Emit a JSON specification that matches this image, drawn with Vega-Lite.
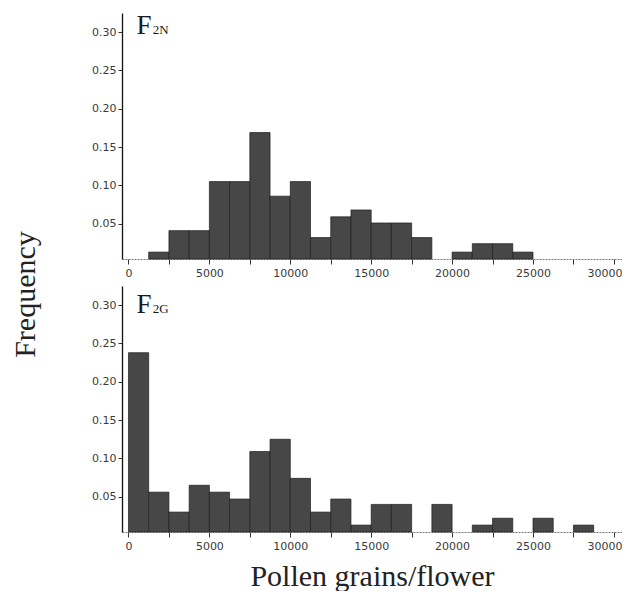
{
  "$schema": "https://vega.github.io/schema/vega-lite/v6.json",
  "background": "white",
  "padding": {"left": 10, "top": 12, "right": 0, "bottom": 0},
  "bounds": "flush",
  "spacing": 27,
  "config": {
    "view": {"stroke": null},
    "axis": {
      "labelFont": "DejaVu Sans",
      "labelFontSize": 11,
      "labelColor": "#3a3a3a",
      "tickColor": "#333",
      "grid": false,
      "titleFont": "Liberation Serif",
      "titleFontWeight": "normal",
      "titleFontSize": 30,
      "titleColor": "#222"
    }
  },
  "vconcat": [
    {
      "width": 500,
      "height": 246,
      "layer": [
        {
          "data": {"values": [
            {"start": 1250, "end": 2500, "freq": 0.013},
            {"start": 2500, "end": 3750, "freq": 0.041},
            {"start": 3750, "end": 5000, "freq": 0.041},
            {"start": 5000, "end": 6250, "freq": 0.105},
            {"start": 6250, "end": 7500, "freq": 0.105},
            {"start": 7500, "end": 8750, "freq": 0.169},
            {"start": 8750, "end": 10000, "freq": 0.086},
            {"start": 10000, "end": 11250, "freq": 0.105},
            {"start": 11250, "end": 12500, "freq": 0.032},
            {"start": 12500, "end": 13750, "freq": 0.059},
            {"start": 13750, "end": 15000, "freq": 0.068},
            {"start": 15000, "end": 16250, "freq": 0.051},
            {"start": 16250, "end": 17500, "freq": 0.051},
            {"start": 17500, "end": 18750, "freq": 0.032},
            {"start": 20000, "end": 21250, "freq": 0.013},
            {"start": 21250, "end": 22500, "freq": 0.024},
            {"start": 22500, "end": 23750, "freq": 0.024},
            {"start": 23750, "end": 25000, "freq": 0.013}
          ]},
          "mark": {"type": "bar", "fill": "#474747", "stroke": "#1e1e1e", "strokeWidth": 0.7},
          "encoding": {
            "x": {
              "field": "start", "type": "quantitative",
              "scale": {"domain": [-400, 30500], "nice": false, "zero": false},
              "axis": {
                "title": null,
                "values": [0, 2500, 5000, 7500, 10000, 12500, 15000, 17500, 20000, 22500, 25000, 27500, 30000],
                "format": "d",
                "labelExpr": "datum.value % 5000 === 0 ? datum.label : ''",
                "tickSize": 5,
                "labelPadding": 3,
                "domainColor": "#777",
                "domainDash": [2, 1],
                "labelFlush": false,
                "labelAlign": {"condition": {"test": "datum.value === 30000", "value": "right"}, "value": "center"},
                "labelOffset": {"condition": {"test": "datum.value === 30000", "value": 8}, "value": 0}
              }
            },
            "x2": {"field": "end"},
            "y": {
              "field": "freq", "type": "quantitative",
              "scale": {"domain": [0.004, 0.325], "nice": false, "zero": false, "clamp": true},
              "axis": {
                "values": [0.05, 0.1, 0.15, 0.2, 0.25, 0.3],
                "format": ".2f",
                "tickSize": 4,
                "domainColor": "#111",
                "domainWidth": 1.3,
                "title": "Frequency",
                "titleAngle": -90,
                "titleX": -97,
                "titleY": 281,
                "titleAlign": "center",
                "titleBaseline": "middle"
              }
            },
            "y2": {"datum": 0}
          }
        },
        {
          "data": {"values": [{"label": "F2N"}]},
          "mark": {"type": "text", "text": "F", "font": "Liberation Serif", "fontSize": 27, "align": "left", "baseline": "alphabetic", "color": "#1a1a1a"},
          "encoding": {"x": {"datum": 500}, "y": {"datum": 0.297}}
        },
        {
          "data": {"values": [{"label": "F2N"}]},
          "mark": {"type": "text", "text": "2N", "font": "Liberation Serif", "fontSize": 13, "align": "left", "baseline": "alphabetic", "color": "#1a1a1a"},
          "encoding": {"x": {"datum": 1500}, "y": {"datum": 0.297}}
        }
      ]
    },
    {
      "width": 500,
      "height": 246,
      "layer": [
        {
          "data": {"values": [
            {"start": 0, "end": 1250, "freq": 0.238},
            {"start": 1250, "end": 2500, "freq": 0.056},
            {"start": 2500, "end": 3750, "freq": 0.030},
            {"start": 3750, "end": 5000, "freq": 0.065},
            {"start": 5000, "end": 6250, "freq": 0.056},
            {"start": 6250, "end": 7500, "freq": 0.047},
            {"start": 7500, "end": 8750, "freq": 0.109},
            {"start": 8750, "end": 10000, "freq": 0.125},
            {"start": 10000, "end": 11250, "freq": 0.074},
            {"start": 11250, "end": 12500, "freq": 0.030},
            {"start": 12500, "end": 13750, "freq": 0.047},
            {"start": 13750, "end": 15000, "freq": 0.013},
            {"start": 15000, "end": 16250, "freq": 0.040},
            {"start": 16250, "end": 17500, "freq": 0.040},
            {"start": 18750, "end": 20000, "freq": 0.040},
            {"start": 21250, "end": 22500, "freq": 0.013},
            {"start": 22500, "end": 23750, "freq": 0.022},
            {"start": 25000, "end": 26250, "freq": 0.022},
            {"start": 27500, "end": 28750, "freq": 0.013}
          ]},
          "mark": {"type": "bar", "fill": "#474747", "stroke": "#1e1e1e", "strokeWidth": 0.7},
          "encoding": {
            "x": {
              "field": "start", "type": "quantitative",
              "scale": {"domain": [-400, 30500], "nice": false, "zero": false},
              "axis": {
                "title": "Pollen grains/flower",
                "titlePadding": 10,
                "values": [0, 2500, 5000, 7500, 10000, 12500, 15000, 17500, 20000, 22500, 25000, 27500, 30000],
                "format": "d",
                "labelExpr": "datum.value % 5000 === 0 ? datum.label : ''",
                "tickSize": 5,
                "labelPadding": 3,
                "domainColor": "#777",
                "domainDash": [2, 1],
                "labelFlush": false,
                "labelAlign": {"condition": {"test": "datum.value === 30000", "value": "right"}, "value": "center"},
                "labelOffset": {"condition": {"test": "datum.value === 30000", "value": 8}, "value": 0}
              }
            },
            "x2": {"field": "end"},
            "y": {
              "field": "freq", "type": "quantitative",
              "scale": {"domain": [0.004, 0.325], "nice": false, "zero": false, "clamp": true},
              "axis": {
                "values": [0.05, 0.1, 0.15, 0.2, 0.25, 0.3],
                "format": ".2f",
                "tickSize": 4,
                "domainColor": "#111",
                "domainWidth": 1.3,
                "title": null
              }
            },
            "y2": {"datum": 0}
          }
        },
        {
          "data": {"values": [{"label": "F2G"}]},
          "mark": {"type": "text", "text": "F", "font": "Liberation Serif", "fontSize": 27, "align": "left", "baseline": "alphabetic", "color": "#1a1a1a"},
          "encoding": {"x": {"datum": 500}, "y": {"datum": 0.290}}
        },
        {
          "data": {"values": [{"label": "F2G"}]},
          "mark": {"type": "text", "text": "2G", "font": "Liberation Serif", "fontSize": 13, "align": "left", "baseline": "alphabetic", "color": "#1a1a1a"},
          "encoding": {"x": {"datum": 1500}, "y": {"datum": 0.290}}
        }
      ]
    }
  ]
}
